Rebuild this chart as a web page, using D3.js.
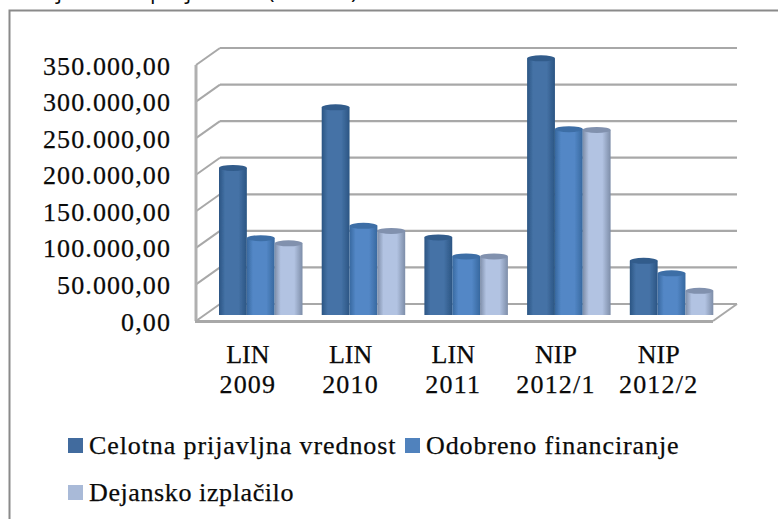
<!DOCTYPE html>
<html><head><meta charset="utf-8">
<script src="https://cdnjs.cloudflare.com/ajax/libs/d3/7.8.5/d3.min.js"></script>
<style>html,body{margin:0;padding:0;background:#fff}svg{display:block}
text{font-family:"Liberation Serif",serif;fill:#0a0a0a;stroke:#0a0a0a;stroke-width:.25px}</style></head><body>
<script>
const categories=[["LIN","2009"],["LIN","2010"],["LIN","2011"],["NIP","2012/1"],["NIP","2012/2"]];
const seriesNames=["Celotna prijavljna vrednost","Odobreno financiranje","Dejansko izplačilo"];
const celotna=[201000,284000,106000,351000,74000];
const odobreno=[105000,122000,80000,254000,57000];
const dejansko=[98000,115000,80000,253000,33000];
const yTicks=[0,50000,100000,150000,200000,250000,300000,350000];
const titleWords=["Projekti v","projektih","(v EUR)"];

const W=778,H=519,series=[celotna,odobreno,dejansko];
const edge=["#2b5583","#37689f","#7d8da8"],mid=["#4572a6","#5387c6","#b2c3e2"],cap=["#305b8b","#3c6ea6","#8191ae"],swatch=["#416b9e","#5082bd","#a9bad8"];
const svg=d3.select("body").append("svg").attr("width",W).attr("height",H);
const defs=svg.append("defs");
const blur=defs.append("filter").attr("id","soft").attr("x","-5%").attr("y","-5%").attr("width","110%").attr("height","110%");
blur.append("feGaussianBlur").attr("stdDeviation",0.55);
series.forEach((_,i)=>{const g=defs.append("linearGradient").attr("id","g"+i);
 g.selectAll("stop").data([[0,edge[i]],[.22,mid[i]],[.7,mid[i]],[1,edge[i]]]).join("stop").attr("offset",d=>d[0]).attr("stop-color",d=>d[1]);});

const labels=categories.map(c=>c.join(" "));
const x=d3.scaleBand().domain(labels).range([196.5,710]).paddingInner(0).paddingOuter(0);
const y=d3.scaleLinear().domain([0,350000]).range([321,65]);
const back=17,depth=24,barDy=6,barDx=22.5;
const inner=d3.scaleBand().domain([0,1,2]).range([0,83.5]);

const titleX=[21,150,268],titleLs=[0,0,3];
svg.append("g").selectAll("text").data(titleWords).join("text").attr("x",(d,i)=>titleX[i]).attr("y",-1)
 .style("font-family","'Open Sans',sans-serif").style("font-size","22px").style("stroke","none").style("letter-spacing",(d,i)=>titleLs[i]+"px").text(d=>d);
svg.append("path").attr("d",`M9.5,${H}V10.5H${W}`).attr("fill","none").attr("stroke","#8a8a8a").attr("stroke-width",2);

const plot=svg.append("g").attr("filter","url(#soft)");
const grid=plot.append("g");
grid.selectAll("line.g").data(yTicks).join("line").attr("class","g").attr("x1",196+depth).attr("x2",737)
 .attr("y1",d=>y(d)-back).attr("y2",d=>y(d)-back).attr("stroke","#a8a8a8").attr("stroke-width",2.2);
grid.selectAll("line.d").data(yTicks).join("line").attr("class","d").attr("x1",196).attr("x2",196+depth)
 .attr("y1",d=>y(d)).attr("y2",d=>y(d)-back).attr("stroke","#a8a8a8").attr("stroke-width",2);
grid.append("line").attr("x1",196).attr("x2",196).attr("y1",y(350000)).attr("y2",y(0)).attr("stroke","#b0b0b0").attr("stroke-width",3);
grid.append("line").attr("x1",195).attr("x2",713).attr("y1",y(0)+.5).attr("y2",y(0)+.5).attr("stroke","#a8a8a8").attr("stroke-width",3);
grid.append("line").attr("x1",713).attr("x2",737).attr("y1",y(0)).attr("y2",y(0)-back).attr("stroke","#a8a8a8").attr("stroke-width",2);

series.forEach((vals,s)=>{
 const g=plot.append("g");
 const bx=(i)=>x(labels[i])+barDx+inner(s);
 g.selectAll("rect").data(vals).join("rect").attr("x",(d,i)=>bx(i)).attr("width",inner.bandwidth())
  .attr("y",d=>y(d)-barDy).attr("height",d=>y(0)-y(d)).attr("fill",`url(#g${s})`);
 g.selectAll("ellipse").data(vals).join("ellipse").attr("cx",(d,i)=>bx(i)+inner.bandwidth()/2).attr("cy",d=>y(d)-barDy)
  .attr("rx",inner.bandwidth()/2).attr("ry",3).attr("fill",cap[s]);
});

const fmt=d3.formatLocale({decimal:",",thousands:".",grouping:[3],currency:["",""]}).format(",.2f");
const ya=svg.append("g").attr("transform","translate(171,0)").call(d3.axisLeft(y).tickValues(yTicks).tickFormat(fmt).tickSize(0).tickPadding(0));
ya.select(".domain").remove();
ya.selectAll("text").attr("dy","9px").style("font-size","26px").style("letter-spacing","1.1px").style("font-family","'Liberation Serif',serif");

const xa=svg.append("g").attr("transform","translate(0,340)").call(d3.axisBottom(x).tickSize(0).tickPadding(0).tickFormat(()=>""));
xa.select(".domain").remove();
xa.selectAll(".tick text").each(function(d,i){const t=d3.select(this).attr("y",null).attr("dy",null).style("font-size","26px").style("font-family","'Liberation Serif',serif");
 categories[i].forEach((l,j)=>t.append("tspan").attr("x",0).attr("y",23+j*30).style("letter-spacing",j?"1.2px":"0px").text(l));});

const lx=[68,405,68],ly=[438,438,485];
const leg=svg.append("g").selectAll("g").data(seriesNames).join("g").attr("transform",(d,i)=>`translate(${lx[i]},${ly[i]})`);
leg.append("rect").attr("width",15).attr("height",15).attr("fill",(d,i)=>swatch[i]);
leg.append("text").attr("x",21).attr("y",16).style("font-size","26px").style("letter-spacing",(d,i)=>i==2?"0.6px":"0.9px").text(d=>d);
</script></body></html>
